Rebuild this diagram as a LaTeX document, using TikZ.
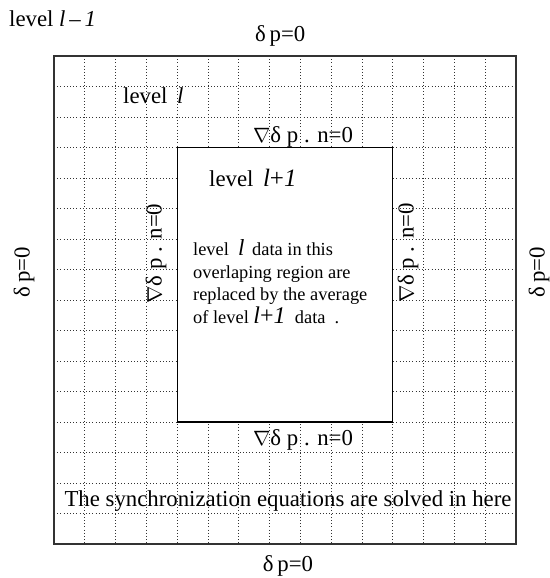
\documentclass[tikz,border=0pt]{standalone}
\usepackage{fontspec}
\setmainfont{Liberation Serif}
\newcommand{\nab}{$\nabla$}
\begin{document}
\begin{tikzpicture}[x=1pt,y=-1pt,
  lbl/.style={inner sep=0pt, font=\fontsize{22.8}{27}\selectfont},
  small/.style={inner sep=0pt, font=\fontsize{18.4}{22.7}\selectfont},
  gridline/.style={line width=0.8pt, dash pattern=on 0.8pt off 2.4pt, black!80},
  outerbox/.style={line width=1.3pt, black!80},
  innerbox/.style={line width=1.3pt, black, fill=white}]
\useasboundingbox (0,0) rectangle (549,578);
% grid
\begin{scope}
\clip (54,56) rectangle (516,544);
\foreach \k in {1,...,14} \draw[gridline] ({54+30.8*\k},56) -- ({54+30.8*\k},544);
\foreach \k in {1,...,15} \draw[gridline] (54,{56+30.5*\k}) -- (516,{56+30.5*\k});
\end{scope}
\draw[outerbox] (54,56) rectangle (516,544);
\draw[innerbox] (177.5,147.5) rectangle (392.5,422);
% labels
\node[lbl, anchor=base west] (lm1) at (9,27) {level \textit{l}\,–\,\textit{1}};
\node[lbl, anchor=base west] (top) at (255,41.7) {δ\,p=0};
\node[lbl, anchor=base west] (lvl) at (123,103.3) {level \,\textit{l}};
\node[lbl, anchor=base west] (ntop) at (253,142) {\nab δ p . n=0};
\node[lbl, anchor=base west] (nbot) at (253,445) {\nab δ p . n=0};
\node[lbl, anchor=base west] (lp1) at (209,186.7) {level \,{\fontsize{25}{27}\selectfont\textit{l}+\textit{1}}};
\node[small, anchor=base west] (p1) at (193,255) {level \ {\fontsize{23}{27}\selectfont\textit{l}}\ \,data in this};
\node[small, anchor=base west] (p2) at (193,278) {overlaping region are};
\node[small, anchor=base west] (p3) at (193,300.5) {replaced by the average};
\node[small, anchor=base west] (p4) at (193,323) {of level {\fontsize{24}{27}\selectfont\textit{l}+\textit{1}}\ \ data\ \ .};
\node[lbl, anchor=base] (sync) at (288,506) {The synchronization equations are solved in here};
\node[lbl, anchor=base west] (bot) at (262.7,571) {δ\,p=0};
\node[lbl, rotate=90] (left) at (24,272) {δ\,p=0};
\node[lbl, rotate=90] (right) at (539,272) {δ\,p=0};
\node[lbl, rotate=90] (nleft) at (156,253.5) {\nab δ p . n=0};
\node[lbl, rotate=90] (nright) at (408,253) {\nab δ p . n=0};
\end{tikzpicture}
\end{document}
